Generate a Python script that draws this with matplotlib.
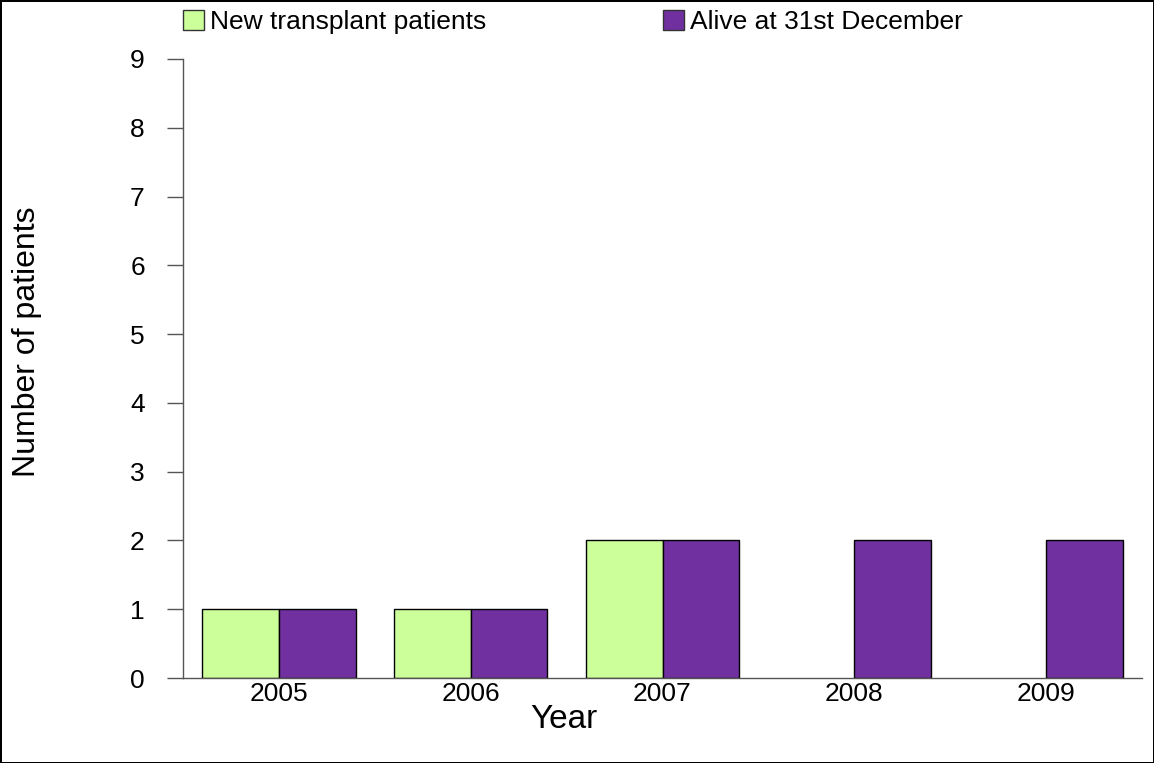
import numpy as np
import matplotlib.pyplot as plt

plt.rcParams['font.family'] = ['Liberation Sans', 'DejaVu Sans']

years = ['2005', '2006', '2007', '2008', '2009']
new_patients = [1, 1, 2, 0, 0]
alive_dec31 = [1, 1, 2, 2, 2]
y_ticks = list(range(0, 10))

fig = plt.figure(figsize=(11.54, 7.63), dpi=100, edgecolor='black', linewidth=2)
ax = fig.add_axes([183 / 1154, 1 - 678 / 763, (1142 - 183) / 1154, (678 - 59) / 763])

x = np.arange(len(years))
w = 0.4
# no outline for empty bars
ax.bar(x - w / 2, new_patients, w, color='#CCFF99', edgecolor='black',
       linewidth=[1 if v else 0 for v in new_patients], label='New transplant patients')
ax.bar(x + w / 2, alive_dec31, w, color='#7030A0', edgecolor='black',
       linewidth=[1 if v else 0 for v in alive_dec31], label='Alive at 31st December')

ax.set_xlim(-0.5, 4.5)
ax.set_ylim(0, 9)
ax.set_yticks(y_ticks)
ax.set_xticks(x)
ax.set_xticklabels(years)

for s in ['top', 'right']:
    ax.spines[s].set_visible(False)
for s in ['left', 'bottom']:
    ax.spines[s].set_color('#555555')
    ax.spines[s].set_linewidth(1)

ax.tick_params(axis='y', length=11.5, width=1, color='#555555', pad=16, labelsize=19)
ax.tick_params(axis='x', length=0, pad=3, labelsize=19)

fig.text(27 / 1154, 1 - 342 / 763, 'Number of patients', rotation=90,
         ha='center', va='center', fontsize=23)
fig.text(564 / 1154, 1 - 720 / 763, 'Year', ha='center', va='center', fontsize=24)

leg = fig.legend(loc='center left', bbox_to_anchor=(183 / 1154, 1 - 22 / 763), ncol=2,
                 frameon=False, fontsize=19, handlelength=0.8, handleheight=0.8,
                 handletextpad=0.23, columnspacing=6.7, borderaxespad=0, borderpad=0)
for h in leg.legend_handles:
    h.set_linewidth(1)
    h.set_edgecolor('#333333')

fig.savefig('out.png', dpi=100)
